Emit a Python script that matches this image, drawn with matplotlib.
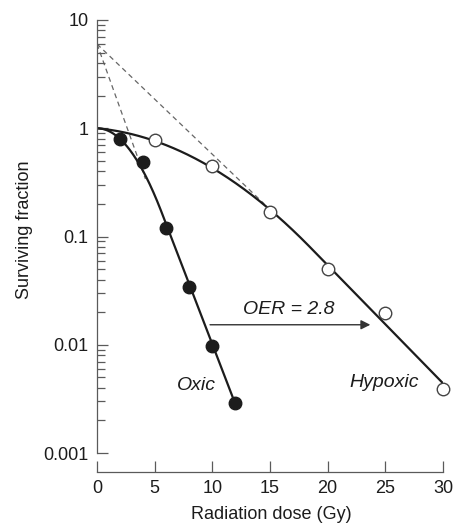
"""
Cell survival curves, oxic vs hypoxic, with the oxygen enhancement ratio.
Points read off the reference figure; the solid curves are LQ-L fits to them.
"""
import numpy as np
import matplotlib
matplotlib.use("Agg")
import matplotlib.pyplot as plt
from matplotlib.ticker import LogLocator, NullFormatter

plt.rcParams["font.family"] = ["Liberation Sans", "DejaVu Sans"]

# measured points
OXIC_DOSE = [2, 4, 6, 8, 10, 12]
OXIC_SF = [0.8, 0.49, 0.12, 0.034, 0.0097, 0.0029]
HYPOXIC_DOSE = [5, 10, 15, 20, 25, 30]
HYPOXIC_SF = [0.78, 0.45, 0.17, 0.05, 0.0197, 0.0039]

# dashed back-extrapolations of the straight parts (to n ~ 6)
OXIC_EXTRAP_DOSE = [0, 4.2]
OXIC_EXTRAP_SF = [6, 0.34]
HYPOXIC_EXTRAP_DOSE = [0, 14.5]
HYPOXIC_EXTRAP_SF = [6, 0.2]

OER = 2.8
OER_ARROW_DOSE = [9.8, 23.7]
OER_ARROW_SF = 0.0153

X_TICKS = [0, 5, 10, 15, 20, 25, 30]
Y_TICKS = [0.001, 0.01, 0.1, 1, 10]
Y_TICKLABELS = ["0.001", "0.01", "0.1", "1", "10"]

INK = "#1c1c1c"
AXC = "#5a5a5a"


def lql(d, a, b, dt):
    """log10 S: linear-quadratic up to dt, straight (tangent) after."""
    d = np.asarray(d, float)
    return np.where(d <= dt, -a * d - b * d ** 2, b * dt ** 2 - (a + 2 * b * dt) * d)


def fit_lql(dose, sf):
    # brute-force least squares in log space, curve forced through S(0)=1
    d = np.asarray(dose, float)
    y = np.log10(sf)
    a = np.linspace(0, 0.05, 11)[:, None, None, None]
    b = np.geomspace(0.001, 0.05, 140)[None, :, None, None]
    t = np.linspace(1, 20, 191)[None, None, :, None]
    pred = np.where(d <= t, -a * d - b * d ** 2, b * t ** 2 - (a + 2 * b * t) * d)
    err = ((pred - y) ** 2).sum(-1)
    i, j, k = np.unravel_index(err.argmin(), err.shape)
    return a.ravel()[i], b.ravel()[j], t.ravel()[k]


p_ox = fit_lql(OXIC_DOSE, OXIC_SF)
p_hy = fit_lql(HYPOXIC_DOSE, HYPOXIC_SF)

d_ox = np.linspace(0, max(OXIC_DOSE), 300)
d_hy = np.linspace(0, max(HYPOXIC_DOSE), 300)

fig = plt.figure(figsize=(4.53, 5.27), dpi=100)
ax = fig.add_axes([97 / 453, 74 / 527, 346 / 453, 433 / 527])
ax.set_yscale("log")
ax.set_xlim(0, 30)
ax.set_ylim(1e-3, 10)

ax.plot(OXIC_EXTRAP_DOSE, OXIC_EXTRAP_SF, ls=(0, (4, 3)), color="#666", lw=0.9, zorder=1)
ax.plot(HYPOXIC_EXTRAP_DOSE, HYPOXIC_EXTRAP_SF, ls=(0, (4, 3)), color="#666", lw=0.9, zorder=1)

ax.plot(d_ox, 10 ** lql(d_ox, *p_ox), color=INK, lw=1.6, zorder=2)
ax.plot(d_hy, 10 ** lql(d_hy, *p_hy), color=INK, lw=1.6, zorder=2)

ax.plot(OXIC_DOSE, OXIC_SF, "o", ms=9, mfc=INK, mec=INK, zorder=3)
ax.plot(HYPOXIC_DOSE, HYPOXIC_SF, "o", ms=9, mfc="white", mec="#444", mew=1.0,
        clip_on=False, zorder=3)

ax.annotate("", xy=(OER_ARROW_DOSE[1], OER_ARROW_SF), xytext=(OER_ARROW_DOSE[0], OER_ARROW_SF),
            arrowprops=dict(arrowstyle="-|>", color="#333", lw=1.0, mutation_scale=14,
                            shrinkA=0, shrinkB=0))
ax.text(16.65, 0.0192, f"OER = {OER}", style="italic", ha="center", va="baseline",
        fontsize=14, color=INK)
ax.text(8.6, 0.0038, "Oxic", style="italic", ha="center", va="baseline", fontsize=14, color=INK)
ax.text(24.9, 0.0041, "Hypoxic", style="italic", ha="center", va="baseline", fontsize=14, color=INK)

for s in ("top", "right"):
    ax.spines[s].set_visible(False)
for s in ("left", "bottom"):
    ax.spines[s].set_color(AXC)
    ax.spines[s].set_linewidth(0.9)
ax.spines["bottom"].set_position(("outward", 13.7))

ax.set_xticks(X_TICKS)
ax.set_yticks(Y_TICKS)
ax.set_yticklabels(Y_TICKLABELS)
ax.yaxis.set_minor_locator(LogLocator(base=10, subs=np.arange(2, 10) * 1.0, numticks=20))
ax.yaxis.set_minor_formatter(NullFormatter())
ax.tick_params(which="major", direction="in", length=8, width=0.9, color=AXC,
               labelsize=13, labelcolor=INK, pad=6)
ax.tick_params(axis="y", which="minor", direction="in", length=5.5, width=0.9, color=AXC)

ax.set_xlabel("Radiation dose (Gy)", fontsize=13, color=INK)
ax.set_ylabel("Surviving fraction", fontsize=13, color=INK)
ax.xaxis.set_label_coords(0.504, -0.122)
ax.yaxis.set_label_coords(-0.185, 0.515)

fig.savefig("out.png", dpi=100)
